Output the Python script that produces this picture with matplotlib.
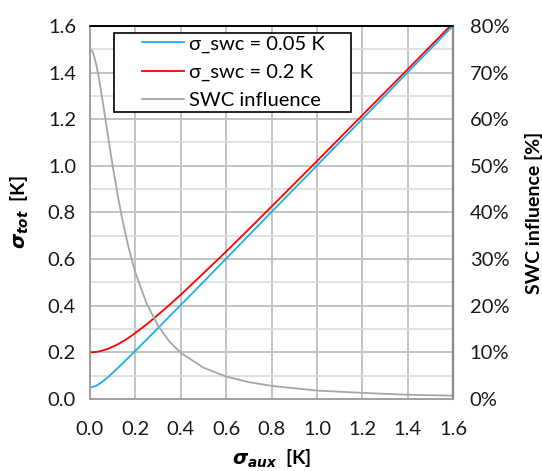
import numpy as np
import matplotlib.pyplot as plt
from matplotlib.patches import Rectangle
from matplotlib.ticker import MultipleLocator, PercentFormatter

plt.rcParams['font.family'] = ['Lato', 'DejaVu Sans']
plt.rcParams['mathtext.fontset'] = 'dejavusans'

# sigma_aux [K]
sigma_aux = [0, 0.01, 0.02, 0.03, 0.04, 0.06, 0.08, 0.1, 0.12, 0.14, 0.16, 0.18, 0.2,
             0.25, 0.3, 0.35, 0.4, 0.5, 0.6, 0.7, 0.8, 1.0, 1.2, 1.4, 1.6]
# sigma_tot [K]
tot_swc005 = [0.050, 0.051, 0.054, 0.058, 0.064, 0.078, 0.094, 0.112, 0.130, 0.149,
              0.168, 0.187, 0.206, 0.255, 0.304, 0.354, 0.403, 0.502, 0.602, 0.702,
              0.802, 1.001, 1.201, 1.401, 1.601]
tot_swc02 = [0.200, 0.200, 0.201, 0.202, 0.204, 0.209, 0.215, 0.224, 0.233, 0.244,
             0.256, 0.269, 0.283, 0.320, 0.361, 0.403, 0.447, 0.539, 0.632, 0.728,
             0.825, 1.020, 1.217, 1.414, 1.612]
# SWC influence [%]
influence = [75.0, 74.6, 73.2, 71.2, 68.6, 62.6, 56.2, 50.0, 44.3, 39.1, 34.6, 30.6,
             27.1, 20.4, 15.7, 12.3, 9.9, 6.7, 4.8, 3.6, 2.8, 1.8, 1.3, 0.9, 0.7]

fig = plt.figure(figsize=(5.42, 4.71), dpi=100)
ax = fig.add_axes([0.166, 0.153, 0.670, 0.792])
ax2 = ax.twinx()

ax.plot(sigma_aux, tot_swc005, color='#1cb0ea', lw=1.3, label='σ_swc = 0.05 K', zorder=3)
ax.plot(sigma_aux, tot_swc02, color='#ff0000', lw=1.3, label='σ_swc = 0.2 K', zorder=3)
ax2.plot(sigma_aux, influence, color='#a6a6a6', lw=1.3, label='SWC influence', zorder=1)

ax.set_xlim(0, 1.6)
ax.set_ylim(0, 1.6)
ax2.set_ylim(0, 80)
ax.xaxis.set_major_locator(MultipleLocator(0.2))
ax.yaxis.set_major_locator(MultipleLocator(0.2))
ax.yaxis.set_minor_locator(MultipleLocator(0.1))
ax2.yaxis.set_major_locator(MultipleLocator(10))
ax2.yaxis.set_major_formatter(PercentFormatter(decimals=0))
ax.xaxis.set_major_formatter(plt.FormatStrFormatter('%.1f'))
ax.yaxis.set_major_formatter(plt.FormatStrFormatter('%.1f'))

ax.grid(which='major', color='#c3c3c3', lw=1.4)
ax.grid(which='minor', axis='y', color='#dcdcdc', lw=1.2)
ax.set_axisbelow(True)

for a in (ax, ax2):
    a.tick_params(which='both', length=0, labelsize=14.5, colors='#1a1a1a')
    for s in ('left', 'bottom', 'right'):
        a.spines[s].set_color('#a0a0a0')
        a.spines[s].set_linewidth(1.2)
    a.spines['top'].set_color('#000000')
    a.spines['top'].set_linewidth(1.2)
ax2.spines['right'].set_color('#8a8a8a')
ax2.spines['right'].set_linewidth(1.6)
ax.tick_params(axis='x', pad=16)
ax.tick_params(axis='y', pad=10)
ax2.tick_params(axis='y', pad=12)

ax.set_xlabel(r'$\mathbfit{\sigma}_{\mathbfit{aux}}$  [K]', fontsize=14, fontweight='bold', labelpad=7)
ax.set_ylabel(r'$\mathbfit{\sigma}_{\mathbfit{tot}}$  [K]', fontsize=14, fontweight='bold', labelpad=12)
ax2.set_ylabel('SWC influence [%]', fontsize=14, fontweight='bold', labelpad=11)

# legend box drawn separately (Excel style wide padding)
box = Rectangle((0.066, 0.769), 0.653, 0.212, transform=ax2.transAxes,
                facecolor='white', edgecolor='black', lw=1.2, zorder=4)
ax2.add_patch(box)

h1, l1 = ax.get_legend_handles_labels()
h2, l2 = ax2.get_legend_handles_labels()
leg = ax2.legend(h1 + h2, l1 + l2, loc='upper left', bbox_to_anchor=(0.143, 0.975),
                 borderaxespad=0, borderpad=0, fontsize=14.5, frameon=False,
                 handlelength=2.1, handletextpad=0.25, labelspacing=0.55)
leg.set_zorder(5)

fig.savefig('out.png', dpi=100)
